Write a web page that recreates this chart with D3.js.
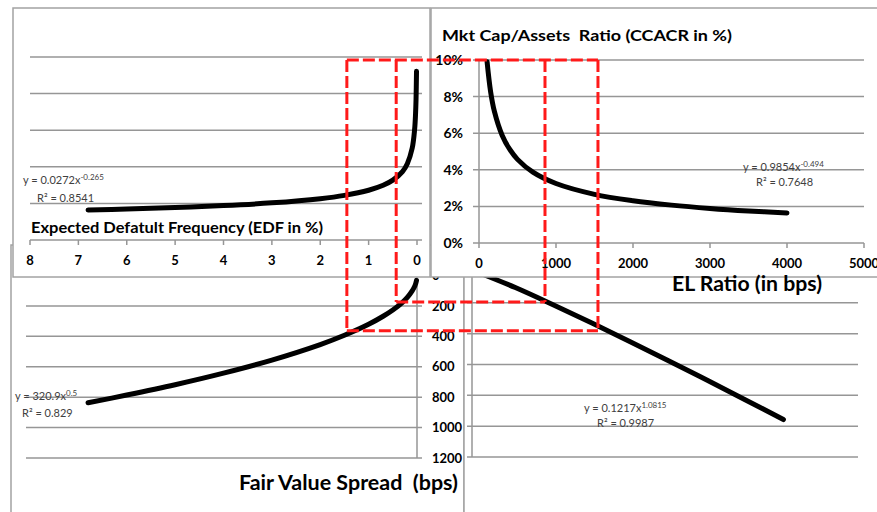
<!DOCTYPE html>
<html>
<head>
<meta charset="utf-8">
<script src="https://cdn.jsdelivr.net/npm/d3@7"></script>
<style>
  body { margin: 0; background: #fff; }
  text { font-family: Lato, "Open Sans", "Liberation Sans", sans-serif; white-space: pre; }
</style>
</head>
<body>
<div id="chart"></div>
<script>
// tick values
const edfTicks = [8, 7, 6, 5, 4, 3, 2, 1, 0];
const ccacrTicks = [0, 0.02, 0.04, 0.06, 0.08, 0.10];
const elTicks = [0, 1000, 2000, 3000, 4000, 5000];
const fvsTicks = [0, 200, 400, 600, 800, 1000, 1200];

// EDF (%) vs CCACR (top left)
const edfPts = [6.8, 6, 5, 4, 3, 2, 1.5, 1, 0.7, 0.5, 0.3, 0.2, 0.1, 0.05, 0.03, 0.02, 0.01];
const ccacrByEdf = [0.0164, 0.0169, 0.0178, 0.0188, 0.0203, 0.0226, 0.0244, 0.0272, 0.0299, 0.0327, 0.0374, 0.0417, 0.0501, 0.0602, 0.0689, 0.0767, 0.0922];
// EDF (%) vs fair value spread (bottom left)
const fvsByEdf = [837, 786, 718, 642, 556, 454, 393, 321, 268, 227, 176, 144, 101, 72, 56, 45, 32];
// EL ratio vs CCACR (top right)
const elPts = [105, 150, 200, 300, 400, 500, 700, 1000, 1500, 2000, 2500, 3000, 3500, 4000];
const ccacrByEl = [0.099, 0.0829, 0.0719, 0.0589, 0.0511, 0.0457, 0.0387, 0.0325, 0.0266, 0.0231, 0.0207, 0.0189, 0.0175, 0.0164];
// EL ratio vs fair value spread (bottom right)
const elPts2 = [0, 500, 1000, 1500, 2000, 2500, 3000, 3500, 4000];
const fvsByEl = [0, 101, 214, 331, 452, 575, 701, 828, 957];

// red guide lines
const guideEdf = [0.43, 1.45];
const guideEl = [857, 1545];
const guideFvs = [174, 364];
const guideCcacr = 0.10;

const width = 877, height = 512;
const svg = d3.select("#chart").append("svg").attr("width", width).attr("height", height);
svg.append("rect").attr("width", width).attr("height", height).attr("fill", "#fff");

const grid = "#969696", border = "#a3a3a3";

// scales
const xEdf = d3.scaleLinear().domain([8, 0]).range([30, 417]);
const yCcL = d3.scaleLinear().domain([0, 0.1]).range([240, 57]);
const xEl = d3.scaleLinear().domain([0, 5000]).range([479, 864]);
const yCcR = d3.scaleLinear().domain([0, 0.1]).range([243, 60]);
const yFvsL = d3.scaleLinear().domain([0, 1200]).range([275.5, 458]);
const xEl2 = d3.scaleLinear().domain([0, 5000]).range([477, 860]);
const yFvsR = d3.scaleLinear().domain([0, 1200]).range([272, 457]);

const curve = d3.curveCatmullRom.alpha(0.5);

function box(x, y, w, h) {
    svg.append("rect").attr("x", x).attr("y", y).attr("width", w).attr("height", h)
        .attr("fill", "#fff").attr("stroke", border).attr("stroke-width", 1.5);
}

function hGrid(g, ticks, y, x1, x2) {
    g.selectAll(null).data(ticks).join("line")
        .attr("x1", x1).attr("x2", x2)
        .attr("y1", d => y(d)).attr("y2", d => y(d))
        .attr("stroke", grid).attr("stroke-width", 1.5);
}

function trend(x, y, lead, exp, r2x, r2y, r2) {
    const t = svg.append("text").attr("x", x).attr("y", y)
        .attr("font-size", 11).attr("fill", "#404040");
    t.append("tspan").text(lead);
    t.append("tspan").attr("dy", -4).attr("font-size", 8).text(exp);
    svg.append("text").attr("x", r2x).attr("y", r2y)
        .attr("font-size", 11).attr("fill", "#404040").text("R² = " + r2);
}

function drawCurve(xs, ys, x, y) {
    svg.append("path")
        .datum(xs.map((d, i) => [d, ys[i]]))
        .attr("d", d3.line().x(d => x(d[0])).y(d => y(d[1])).curve(curve))
        .attr("fill", "none").attr("stroke", "#000").attr("stroke-width", 5)
        .attr("stroke-linecap", "round");
}

// ---- bottom left: EDF vs fair value spread
box(11, 245, 453, 300);
const bl = svg.append("g");
hGrid(bl, fvsTicks.slice(1), yFvsL, 26, 422);
bl.append("line").attr("x1", 417).attr("x2", 417).attr("y1", yFvsL(0)).attr("y2", yFvsL(1200))
    .attr("stroke", grid).attr("stroke-width", 1.5);
bl.selectAll(null).data(fvsTicks).join("text")
    .attr("x", 432).attr("y", d => yFvsL(d)).attr("dy", "0.36em")
    .attr("font-size", 13).attr("font-weight", "bold").text(d => d);
drawCurve(edfPts, fvsByEdf, xEdf, yFvsL);
trend(15, 400, "y = 320.9x", "0.5", 22, 417, "0.829");
svg.append("text").attr("x", 239).attr("y", 490).attr("font-size", 20).attr("font-weight", "bold")
    .attr("textLength", 219).attr("lengthAdjust", "spacingAndGlyphs").text("Fair Value Spread  (bps)");

// ---- bottom right: EL ratio vs fair value spread
box(464, 245, 430, 300);
const br = svg.append("g");
hGrid(br, fvsTicks.slice(1), yFvsR, 467, 858);
br.append("line").attr("x1", 472).attr("x2", 472).attr("y1", yFvsR(0)).attr("y2", yFvsR(1200))
    .attr("stroke", grid).attr("stroke-width", 1.5);
drawCurve(elPts2, fvsByEl, xEl2, yFvsR);
trend(584, 412, "y = 0.1217x", "1.0815", 597, 427, "0.9987");

// ---- top left: EDF vs CCACR
box(13, 8, 417, 269);
const tl = svg.append("g");
hGrid(tl, ccacrTicks.slice(1), yCcL, 30, 422);
tl.append("line").attr("x1", 30).attr("x2", 422).attr("y1", yCcL(0)).attr("y2", yCcL(0))
    .attr("stroke", grid).attr("stroke-width", 1.5);
tl.selectAll(null).data(edfTicks).join("line")
    .attr("x1", d => xEdf(d)).attr("x2", d => xEdf(d))
    .attr("y1", yCcL(0)).attr("y2", yCcL(0) + 5)
    .attr("stroke", grid).attr("stroke-width", 1.5);
tl.selectAll(null).data(edfTicks).join("text")
    .attr("x", d => xEdf(d)).attr("y", 265).attr("text-anchor", "middle")
    .attr("font-size", 13).attr("font-weight", "bold").text(d => d);
drawCurve(edfPts, ccacrByEdf, xEdf, yCcL);
trend(23, 184, "y = 0.0272x", "-0.265", 37, 202, "0.8541");
svg.append("text").attr("x", 31).attr("y", 233).attr("font-size", 15).attr("font-weight", "bold")
    .attr("textLength", 292).attr("lengthAdjust", "spacingAndGlyphs")
    .text("Expected Defatult Frequency (EDF in %)");

// ---- top right: EL ratio vs CCACR
box(431, 8, 460, 269);
const tr = svg.append("g");
hGrid(tr, ccacrTicks.slice(1), yCcR, 473, 864);
tr.append("line").attr("x1", 473).attr("x2", 864).attr("y1", yCcR(0)).attr("y2", yCcR(0))
    .attr("stroke", grid).attr("stroke-width", 1.5);
tr.append("line").attr("x1", 479).attr("x2", 479).attr("y1", yCcR(0)).attr("y2", yCcR(0.1))
    .attr("stroke", grid).attr("stroke-width", 1.5);
tr.selectAll(null).data(elTicks).join("line")
    .attr("x1", d => xEl(d)).attr("x2", d => xEl(d))
    .attr("y1", yCcR(0)).attr("y2", yCcR(0) + 5)
    .attr("stroke", grid).attr("stroke-width", 1.5);
tr.selectAll(null).data(ccacrTicks).join("text")
    .attr("x", 463).attr("y", d => yCcR(d)).attr("dy", "0.36em").attr("text-anchor", "end")
    .attr("font-size", 14).attr("font-weight", "bold").text(d => d3.format(".0%")(d));
tr.selectAll(null).data(elTicks).join("text")
    .attr("x", d => xEl(d)).attr("y", 268).attr("text-anchor", "middle")
    .attr("font-size", 13).attr("font-weight", "bold").text(d => d);
drawCurve(elPts, ccacrByEl, xEl, yCcR);
trend(743, 171, "y = 0.9854x", "-0.494", 756, 186, "0.7648");
svg.append("text").attr("x", 442).attr("y", 41).attr("font-size", 16).attr("font-weight", "bold")
    .attr("textLength", 290).attr("lengthAdjust", "spacingAndGlyphs")
    .text("Mkt Cap/Assets  Ratio (CCACR in %)");
svg.append("text").attr("x", 672).attr("y", 291).attr("font-size", 21).attr("font-weight", "bold")
    .attr("textLength", 150).attr("lengthAdjust", "spacingAndGlyphs").text("EL Ratio (in bps)");

// ---- red dashed guides
const red = svg.append("g").attr("stroke", "#ff1a1a").attr("stroke-width", 3)
    .attr("stroke-dasharray", "12,4").attr("fill", "none");
const guideTop = yCcR(guideCcacr);
red.append("line").attr("x1", xEdf(guideEdf[1])).attr("x2", xEl(guideEl[1])).attr("y1", guideTop).attr("y2", guideTop);
guideEdf.forEach((e, i) => {
    red.append("line").attr("x1", xEdf(e)).attr("x2", xEdf(e)).attr("y1", guideTop).attr("y2", yFvsL(guideFvs[i]));
    red.append("line").attr("x1", xEl(guideEl[i])).attr("x2", xEl(guideEl[i])).attr("y1", guideTop).attr("y2", yFvsL(guideFvs[i]));
    red.append("line").attr("x1", xEdf(e)).attr("x2", xEl(guideEl[i])).attr("y1", yFvsL(guideFvs[i])).attr("y2", yFvsL(guideFvs[i]));
});
</script>
</body>
</html>
